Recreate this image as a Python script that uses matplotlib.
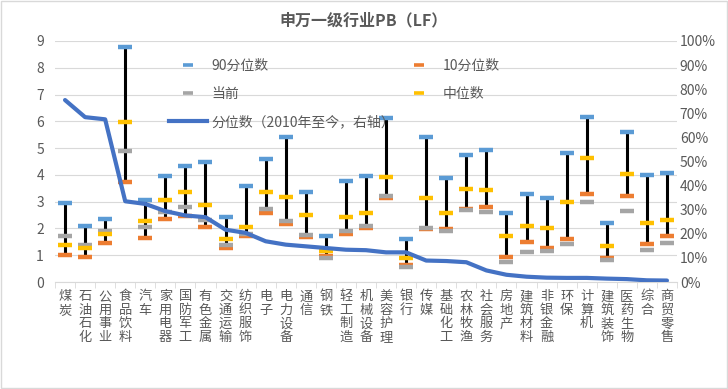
import numpy as np
import matplotlib
matplotlib.use("Agg")
import matplotlib.pyplot as plt
from matplotlib.lines import Line2D
from matplotlib.patches import Rectangle
from matplotlib.ticker import FuncFormatter, FixedLocator

plt.rcParams['font.family'] = ['Noto Sans CJK SC', 'DejaVu Sans']

industries = ["煤炭", "石油石化", "公用事业", "食品饮料", "汽车", "家用电器", "国防军工", "有色金属",
              "交通运输", "纺织服饰", "电子", "电力设备", "通信", "钢铁", "轻工制造", "机械设备",
              "美容护理", "银行", "传媒", "基础化工", "农林牧渔", "社会服务", "房地产", "建筑材料",
              "非银金融", "环保", "计算机", "建筑装饰", "医药生物", "综合", "商贸零售"]

p90 = [2.96, 2.08, 2.37, 8.79, 3.08, 3.95, 4.35, 4.48, 2.43, 3.58, 4.58, 5.40, 3.35, 1.71, 3.78, 3.94,
       6.11, 1.62, 5.40, 3.87, 4.73, 4.94, 2.56, 3.27, 3.12, 4.80, 6.17, 2.22, 5.61, 4.00, 4.06]
p10 = [1.01, 0.94, 1.46, 3.74, 1.63, 2.36, 2.48, 2.06, 1.28, 1.72, 2.57, 2.16, 1.68, 0.96, 1.80, 2.02,
       3.12, 0.64, 1.98, 1.98, 2.73, 2.79, 0.92, 1.51, 1.28, 1.61, 3.27, 0.90, 3.22, 1.41, 1.71]
current = [1.73, 1.40, 1.91, 4.88, 2.04, 2.61, 2.81, 2.31, 1.38, 1.78, 2.74, 2.26, 1.75, 0.90, 1.91, 2.08,
           3.20, 0.57, 2.00, 1.91, 2.68, 2.61, 0.74, 1.11, 1.16, 1.42, 2.99, 0.81, 2.67, 1.21, 1.45]
median = [1.38, 1.28, 1.78, 5.97, 2.27, 3.07, 3.35, 2.89, 1.61, 2.06, 3.37, 3.19, 2.49, 1.16, 2.43, 2.59,
          3.92, 0.90, 3.14, 2.57, 3.48, 3.45, 1.70, 2.09, 2.00, 3.00, 4.63, 1.33, 4.05, 2.22, 2.32]
pct_rank = [75.5, 68.4, 67.5, 33.5, 32.4, 29.4, 27.6, 26.9, 21.7, 20.4, 16.9, 15.5, 14.8, 14.1, 13.4, 13.2,
            12.3, 12.3, 8.9, 8.7, 8.2, 4.8, 3.0, 2.2, 1.8, 1.7, 1.7, 1.4, 1.2, 0.7, 0.6]

C90 = "#5B9BD5"
C10 = "#ED7D31"
CCUR = "#A5A5A5"
CMED = "#FFC000"
CLINE = "#4472C4"
GRAY_TXT = "#595959"

x = np.arange(len(industries))

fig = plt.figure(figsize=(7.28, 3.89), dpi=100)
ax = fig.add_axes([55 / 728, 1 - 282 / 389, 622 / 728, 241 / 389])
ax2 = ax.twinx()

# high-low bars
ax.vlines(x, p10, p90, color="black", lw=2.2, zorder=2)
mk = dict(marker="_", markersize=10, mew=3.2, ls="none", zorder=3)
ax.plot(x, p90, color=C90, **mk)
ax.plot(x, p10, color=C10, **mk)
ax.plot(x, current, color=CCUR, **mk)
ax.plot(x, median, color=CMED, **mk)

ax2.plot(x, np.array(pct_rank) / 100, color=CLINE, lw=3, solid_capstyle="round", zorder=4)

ax.set_xlim(-0.5, len(industries) - 0.5)
ax.set_ylim(0, 9)
ax2.set_ylim(0, 1)
ax.set_yticks(range(0, 10))
ax2.set_yticks(np.linspace(0, 1, 11))
ax2.yaxis.set_major_formatter(FuncFormatter(lambda v, p: f"{v * 100:.0f}%"))

ax.grid(axis="y", color="#D9D9D9", lw=0.8)
ax.set_axisbelow(True)
for a in (ax, ax2):
    for s in ("left", "right", "top"):
        a.spines[s].set_visible(False)
    a.spines["bottom"].set_color("#D9D9D9")
ax2.spines["bottom"].set_visible(False)

ax.tick_params(axis="y", length=0, labelsize=10, labelcolor=GRAY_TXT, pad=8)
ax2.tick_params(axis="y", length=0, labelsize=10, labelcolor=GRAY_TXT, pad=2)

ax.set_xticks(x)
ax.set_xticklabels(["\n".join(n) for n in industries], va="top", linespacing=1.05)
ax.xaxis.set_minor_locator(FixedLocator(np.arange(-0.5, len(industries), 1)))
ax.tick_params(axis="x", which="major", length=0, labelsize=9.5, labelcolor=GRAY_TXT, pad=6)
ax.tick_params(axis="x", which="minor", length=4, color="#D9D9D9")

fig.text(0.5, 1 - 20 / 389, "申万一级行业PB（LF）", ha="center", va="center",
         fontsize=11.5, fontweight="bold", color=GRAY_TXT)

hm = dict(marker="_", markersize=7, mew=2.6, ls="none")
handles = [Line2D([], [], color=C90, **hm),
           Line2D([], [], color=CCUR, **hm),
           Line2D([], [], color=CLINE, lw=3),
           Line2D([], [], color=C10, **hm),
           Line2D([], [], color=CMED, **hm)]
labels = ["90分位数", "当前", "分位数（2010年至今，右轴）", "10分位数", "中位数"]
leg = fig.legend(handles, labels, ncol=2, loc="upper left",
                 bbox_to_anchor=(169 / 728, 1 - 59 / 389), frameon=False,
                 fontsize=10, handlelength=2.7, handletextpad=0.35, columnspacing=0.4,
                 labelspacing=1.0, borderpad=0, borderaxespad=0)
for t in leg.get_texts():
    t.set_color(GRAY_TXT)

fig.patches.append(Rectangle((1 / 728, 1 / 389), 726 / 728, 387 / 389, transform=fig.transFigure,
                             fill=False, edgecolor="#D9D9D9", lw=1))

fig.savefig("out.png", dpi=100)
